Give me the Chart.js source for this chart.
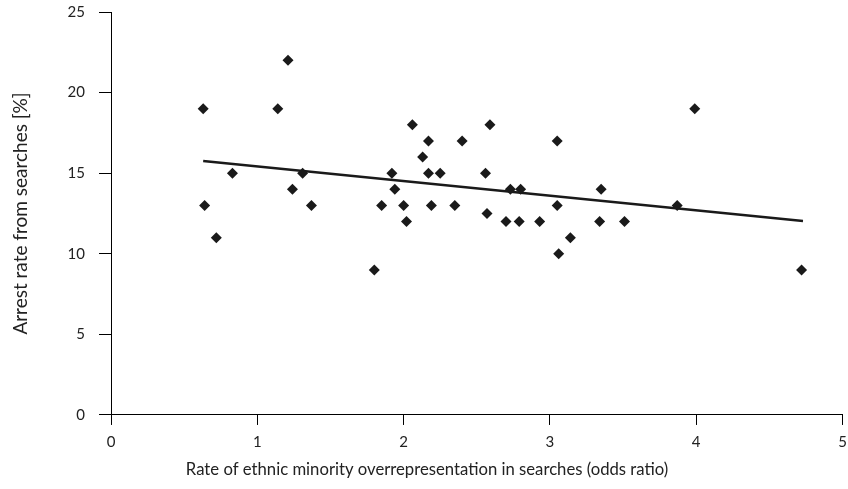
<!DOCTYPE html>
<html>
<head>
<meta charset="utf-8">
<script src="https://cdn.jsdelivr.net/npm/chart.js@4"></script>
<style>
  html, body { margin: 0; padding: 0; background: #fff; }
  #wrap { width: 848px; height: 489px; }
</style>
</head>
<body>
<div id="wrap"><canvas id="scatter-chart"></canvas></div>
<script>
// odds ratio (x) and arrest rate % (y), one entry per force
const oddsRatio = [
  0.63, 1.21, 1.14, 2.06, 2.17, 2.40, 2.13, 0.83, 1.31, 1.92, 2.17, 2.25,
  1.24, 1.94, 0.64, 1.37, 1.85, 2.00, 2.19, 2.35, 2.02, 0.72, 1.80,
  2.59, 3.05, 3.99, 2.56, 2.73, 2.80, 3.35, 2.57, 3.05, 3.87, 2.70,
  2.79, 2.93, 3.34, 3.51, 3.14, 3.06, 4.72
];
const arrestRate = [
  19, 22, 19, 18, 17, 17, 16, 15, 15, 15, 15, 15,
  14, 14, 13, 13, 13, 13, 13, 13, 12, 11, 9,
  18, 17, 19, 15, 14, 14, 14, 12.5, 13, 13, 12,
  12, 12, 12, 12, 11, 10, 9
];

// fitted trend line end points
const trendX = [0.63, 4.73];
const trendY = [15.76, 12.03];

const xTicks = [0, 1, 2, 3, 4, 5];
const yTicks = [0, 5, 10, 15, 20, 25];

const fontFamily = 'Lato, "Open Sans", sans-serif';

document.addEventListener('DOMContentLoaded', function () {
  const ctx = document.getElementById('scatter-chart').getContext('2d');

  const points = oddsRatio.map((x, i) => ({ x: x, y: arrestRate[i] }));
  const trend = trendX.map((x, i) => ({ x: x, y: trendY[i] }));

  new Chart(ctx, {
    type: 'scatter',
    data: {
      datasets: [{
        label: 'Forces',
        data: points,
        pointStyle: 'rectRot',
        pointRadius: 5.5,
        backgroundColor: '#1a1a1a',
        borderColor: '#1a1a1a',
        borderWidth: 0
      }, {
        type: 'line',
        label: 'Trend',
        data: trend,
        borderColor: '#1a1a1a',
        borderWidth: 2.4,
        pointRadius: 0,
        fill: false
      }]
    },
    options: {
      responsive: true,
      maintainAspectRatio: false,
      animation: false,
      layout: { padding: { top: 12, right: 3, left: 9, bottom: 0 } },
      plugins: {
        legend: { display: false },
        tooltip: { enabled: false },
        // x axis title, centred on the whole picture like the original
        title: {
          display: true,
          position: 'bottom',
          text: 'Rate of ethnic minority overrepresentation in searches (odds ratio)',
          color: '#222',
          padding: { top: 0, bottom: 9 },
          font: { family: fontFamily, size: 16.7, weight: 'normal' }
        }
      },
      scales: {
        x: {
          type: 'linear',
          min: 0,
          max: 5,
          afterBuildTicks: function (scale) {
            scale.ticks = xTicks.map(v => ({ value: v }));
          },
          afterFit: function (scale) {
            scale.height = 45;
            scale.paddingRight = 0;
            scale.paddingLeft = 0;
          },
          grid: { display: true, drawOnChartArea: false, drawTicks: true, tickLength: 10, color: '#000', lineWidth: 1 },
          border: { display: true, color: '#000', width: 1 },
          ticks: { color: '#222', padding: 8, font: { family: fontFamily, size: 15 } }
        },
        y: {
          type: 'linear',
          min: 0,
          max: 25,
          afterBuildTicks: function (scale) {
            scale.ticks = yTicks.map(v => ({ value: v }));
          },
          afterFit: function (scale) {
            scale.width = 102;
            scale.paddingTop = 0;
            scale.paddingBottom = 0;
          },
          grid: { display: true, drawOnChartArea: false, drawTicks: true, tickLength: 12, color: '#000', lineWidth: 1 },
          border: { display: true, color: '#000', width: 1 },
          ticks: { color: '#222', padding: 14, font: { family: fontFamily, size: 15 } },
          title: {
            display: true,
            text: 'Arrest rate from searches [%]',
            color: '#222',
            padding: { top: 0, bottom: 0 },
            font: { family: fontFamily, size: 19 }
          }
        }
      }
    }
  });
});
</script>
</body>
</html>
